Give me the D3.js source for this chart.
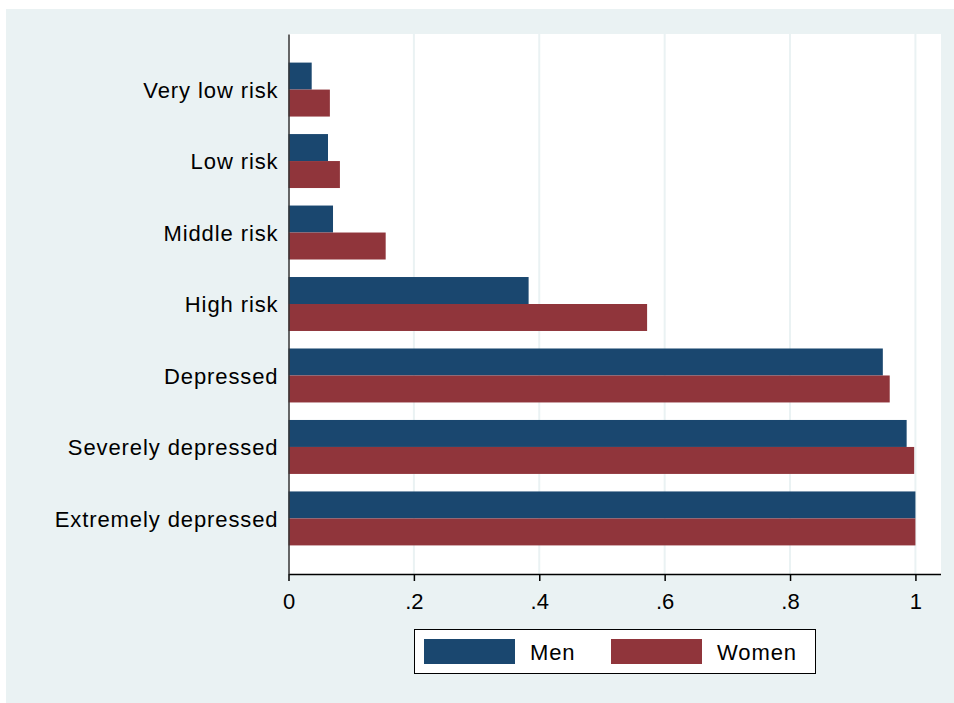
<!DOCTYPE html>
<meta charset="utf-8">
<style>
body { margin: 0; background: #fff; }
text { font-family: "Liberation Sans", Arial, sans-serif; fill: #000; }
</style>
<body>
<script src="https://d3js.org/d3.v7.min.js"></script>
<script>

// data
var categories = ["Very low risk", "Low risk", "Middle risk", "High risk",
                  "Depressed", "Severely depressed", "Extremely depressed"];
var seriesNames = ["Men", "Women"];
var men   = [0.037, 0.063, 0.071, 0.383, 0.948, 0.986, 1.0];
var women = [0.066, 0.082, 0.155, 0.572, 0.959, 0.998, 1.0];
var xTicks = [0, 0.2, 0.4, 0.6, 0.8, 1];
var xTickLabels = ["0", ".2", ".4", ".6", ".8", "1"];

var colors = {Men: "#1a476f", Women: "#90353b"};
var bg = "#eaf2f3";
var fontSize = 22, spacing = "0.9px";

var W = 954, H = 703;
var plot = {left: 288.5, right: 941, top: 34, bottom: 574};

var svg = d3.select("body").append("svg")
    .attr("width", W)
    .attr("height", H);

// outer panel
svg.append("rect")
    .attr("x", 6).attr("y", 9)
    .attr("width", W - 6).attr("height", H - 9)
    .attr("fill", bg);

// plot region
svg.append("rect")
    .attr("x", plot.left).attr("y", plot.top)
    .attr("width", plot.right - plot.left).attr("height", plot.bottom - plot.top)
    .attr("fill", "#fff");

var x = d3.scaleLinear()
    .domain([0, 1.04])
    .range([plot.left, plot.right - 0.5]);

var y = d3.scaleBand()
    .domain(categories)
    .range([plot.top, plot.bottom])
    .paddingInner(0.245)
    .paddingOuter(0.4);

var ySub = d3.scaleBand()
    .domain(seriesNames)
    .range([0, y.bandwidth()]);

// grid lines
svg.append("g")
  .selectAll("line")
    .data(xTicks.slice(1))
  .enter().append("line")
    .attr("x1", function(d) { return x(d); })
    .attr("x2", function(d) { return x(d); })
    .attr("y1", plot.top)
    .attr("y2", plot.bottom)
    .attr("stroke", bg)
    .attr("stroke-width", 2);

// bars
var rows = categories.map(function(c, i) {
  return {cat: c, values: [{s: "Men", v: men[i]}, {s: "Women", v: women[i]}]};
});

var groups = svg.append("g")
  .selectAll("g")
    .data(rows)
  .enter().append("g")
    .attr("transform", function(d) { return "translate(0," + y(d.cat) + ")"; });

groups.selectAll("rect")
    .data(function(d) { return d.values; })
  .enter().append("rect")
    .attr("x", x(0))
    .attr("y", function(d) { return ySub(d.s); })
    .attr("width", function(d) { return x(d.v) - x(0); })
    .attr("height", ySub.bandwidth())
    .attr("fill", function(d) { return colors[d.s]; });

// x axis
var xAxis = svg.append("g")
    .attr("transform", "translate(0," + plot.bottom + ")")
    .call(d3.axisBottom(x)
        .tickValues(xTicks)
        .tickFormat(function(d, i) { return xTickLabels[i]; })
        .tickSize(7)
        .tickSizeOuter(0));
xAxis.select(".domain").attr("stroke", "#000").attr("stroke-width", 1.5);
xAxis.selectAll(".tick line").attr("stroke", "#000").attr("stroke-width", 1.5);
xAxis.selectAll(".tick text")
    .attr("font-size", fontSize)
    .attr("y", 17)
    .attr("dy", "0.8em")
    .attr("font-family", "Liberation Sans, Arial, sans-serif");

// y axis
var yAxis = svg.append("g")
    .attr("transform", "translate(" + plot.left + ",0)")
    .call(d3.axisLeft(y).tickSize(0).tickSizeOuter(0).tickPadding(10));
yAxis.select(".domain").attr("stroke", "#333").attr("stroke-width", 1.5);
yAxis.selectAll(".tick text")
    .attr("font-size", fontSize)
    .attr("dy", "0.38em")
    .attr("letter-spacing", spacing)
    .attr("font-family", "Liberation Sans, Arial, sans-serif");

// legend
var legend = svg.append("g");
legend.append("rect")
    .attr("x", 414.5).attr("y", 629.5)
    .attr("width", 401).attr("height", 44)
    .attr("fill", "#fff")
    .attr("stroke", "#000")
    .attr("stroke-width", 1);

var legX = [424, 611];
seriesNames.forEach(function(s, i) {
  legend.append("rect")
      .attr("x", legX[i]).attr("y", 639)
      .attr("width", 91).attr("height", 25)
      .attr("fill", colors[s]);
  legend.append("text")
      .attr("x", legX[i] + 106).attr("y", 652)
      .attr("dy", "0.38em")
      .attr("font-size", fontSize)
      .attr("letter-spacing", spacing)
      .text(s);
});

</script>
</body>
